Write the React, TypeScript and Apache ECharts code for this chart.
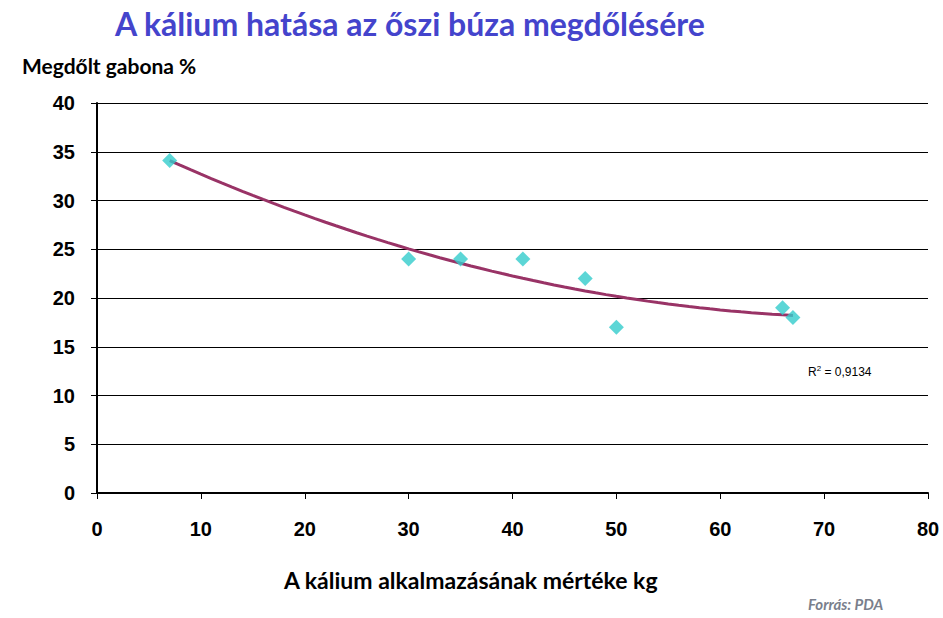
import React, { useEffect, useRef } from "react";
import * as echarts from "echarts";

const potassiumKg = [7, 30, 35, 41, 47, 50, 66, 67];
const lodgedPct = [34.1, 24, 24, 24, 22, 17, 19, 18];
const yTicks = { min: 0, max: 40, interval: 5 };
const xTicks = { min: 0, max: 80, interval: 10 };
const titleText = "A kálium hatása az őszi búza megdőlésére";
const yName = "Megdőlt gabona %";
const xName = "A kálium alkalmazásának mértéke kg";
const r2Label = "0,9134";
const sourceText = "Forrás: PDA";

function quadFit(xs: number[], ys: number[]) {
  // least squares y = a + b x + c x^2 (Excel polynomial trendline)
  let s0 = 0, s1 = 0, s2 = 0, s3 = 0, s4 = 0, t0 = 0, t1 = 0, t2 = 0;
  for (let i = 0; i < xs.length; i++) {
    const x = xs[i], y = ys[i];
    s0 += 1; s1 += x; s2 += x * x; s3 += x ** 3; s4 += x ** 4;
    t0 += y; t1 += x * y; t2 += x * x * y;
  }
  const M = [
    [s0, s1, s2, t0],
    [s1, s2, s3, t1],
    [s2, s3, s4, t2],
  ];
  for (let i = 0; i < 3; i++) {
    let p = i;
    for (let r = i + 1; r < 3; r++) if (Math.abs(M[r][i]) > Math.abs(M[p][i])) p = r;
    [M[i], M[p]] = [M[p], M[i]];
    for (let r = 0; r < 3; r++) {
      if (r === i) continue;
      const f = M[r][i] / M[i][i];
      for (let c = i; c < 4; c++) M[r][c] -= f * M[i][c];
    }
  }
  return [M[0][3] / M[0][0], M[1][3] / M[1][1], M[2][3] / M[2][2]];
}

export default function App() {
  const ref = useRef<HTMLDivElement>(null);
  useEffect(() => {
    document.body.style.margin = "0";
    const chart = echarts.init(ref.current!, null, { renderer: "svg" });
    const [a, b, c] = quadFit(potassiumKg, lodgedPct);
    const xMin = Math.min(...potassiumKg);
    const xMax = Math.max(...potassiumKg);
    const trend: number[][] = [];
    const steps = 60;
    for (let i = 0; i <= steps; i++) {
      const x = xMin + ((xMax - xMin) * i) / steps;
      trend.push([x, a + b * x + c * x * x]);
    }
    chart.setOption({
      animation: false,
      backgroundColor: "#ffffff",
      grid: { left: 97, right: 15, top: 103, bottom: 125 },
      xAxis: {
        type: "value",
        min: xTicks.min,
        max: xTicks.max,
        interval: xTicks.interval,
        axisLine: { show: true, lineStyle: { color: "#000", width: 2 } },
        axisTick: { show: true, length: 6, lineStyle: { color: "#000", width: 1 } },
        splitLine: { show: false },
        axisLabel: {
          color: "#000",
          fontFamily: "Liberation Sans, Arial",
          fontWeight: "bold",
          fontSize: 20,
          margin: 26,
        },
      },
      yAxis: {
        type: "value",
        min: yTicks.min,
        max: yTicks.max,
        interval: yTicks.interval,
        axisLine: { show: true, lineStyle: { color: "#000", width: 2 } },
        axisTick: { show: true, length: 6, lineStyle: { color: "#000", width: 1 } },
        splitLine: { show: true, lineStyle: { color: "#000", width: 1 } },
        axisLabel: {
          color: "#000",
          fontFamily: "Liberation Sans, Arial",
          fontWeight: "bold",
          fontSize: 20,
          margin: 22,
        },
      },
      series: [
        {
          type: "line",
          data: trend,
          showSymbol: false,
          symbol: "none",
          lineStyle: { color: "#993366", width: 3 },
          z: 2,
        },
        {
          type: "scatter",
          data: potassiumKg.map((x, i) => [x, lodgedPct[i]]),
          symbol: "diamond",
          symbolSize: 15,
          itemStyle: { color: "#33CCCC" },
          z: 3,
        },
      ],
      graphic: [
        {
          type: "text",
          left: 115,
          top: 7,
          style: {
            text: titleText,
            fill: "#4444CC",
            font: "bold 32px Lato, sans-serif",
          },
        },
        {
          type: "text",
          left: 22,
          top: 55,
          style: {
            text: yName,
            fill: "#000",
            font: "bold 21px Lato, sans-serif",
          },
        },
        {
          type: "text",
          left: 284,
          top: 568,
          style: {
            text: xName,
            fill: "#000",
            font: "bold 23px Lato, sans-serif",
          },
        },
        {
          type: "text",
          left: 808,
          top: 364,
          style: {
            text: "{a|R}{s|2}{a| = " + r2Label + "}",
            rich: {
              a: { fontSize: 12, fontFamily: "Liberation Sans, Arial", fill: "#000", verticalAlign: "bottom" },
              s: { fontSize: 8, fontFamily: "Liberation Sans, Arial", fill: "#000", verticalAlign: "top", padding: [0, 0, 6, 0] },
            },
          },
        },
        {
          type: "text",
          left: 808,
          top: 596,
          style: {
            text: sourceText,
            fill: "#7a7f8c",
            font: "italic bold 15px Lato, sans-serif",
          },
        },
      ],
    });
    return () => chart.dispose();
  }, []);
  return <div ref={ref} style={{ width: 943, height: 618 }} />;
}
